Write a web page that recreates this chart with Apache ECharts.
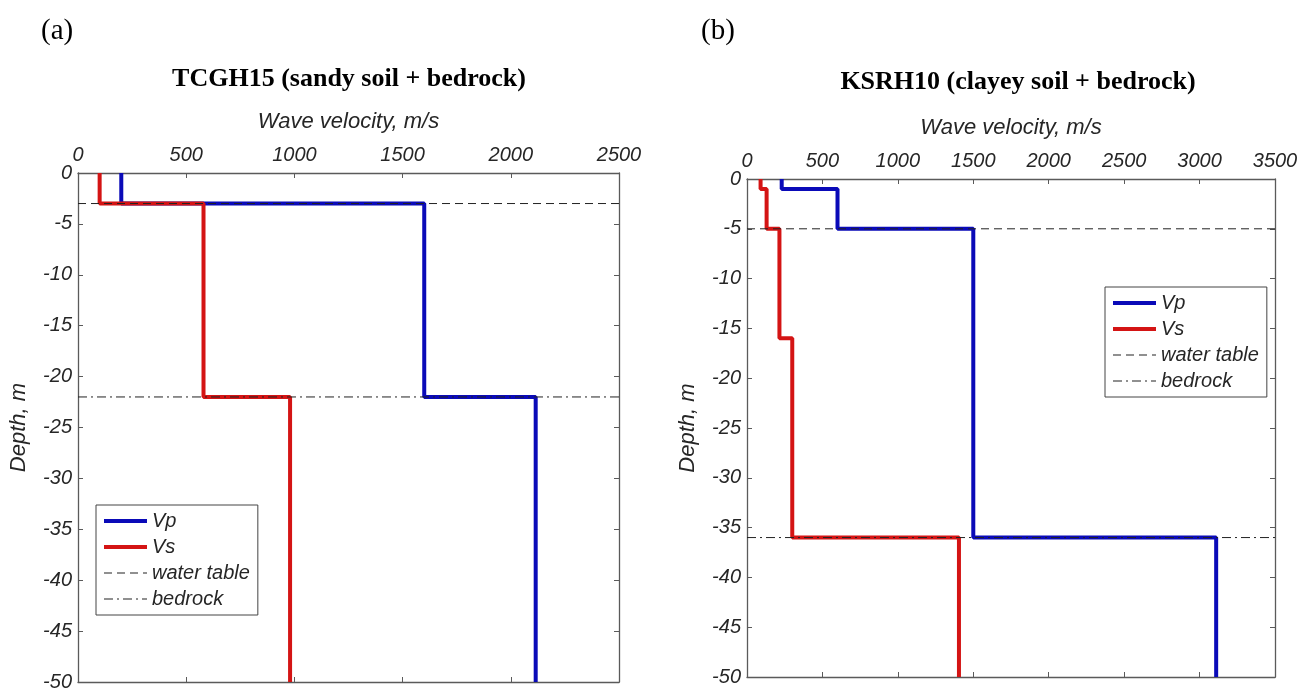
<!DOCTYPE html>
<html>
<head>
<meta charset="utf-8">
<script src="https://cdn.jsdelivr.net/npm/echarts@6/dist/echarts.min.js"></script>
<style>
  html, body { margin: 0; padding: 0; background: #fff; }
  #main { width: 1313px; height: 695px; }
</style>
</head>
<body>
<div id="main"></div>
<script>
// (a) TCGH15 - layer boundaries (m) and velocities per layer (m/s)
const depthA = [0, -3, -22, -50];
const vpA = [200, 1600, 2115];
const vsA = [100, 580, 980];
const waterA = -3;
const rockA = -22;
const xTicksA = [0, 500, 1000, 1500, 2000, 2500];

// (b) KSRH10
const depthB = [0, -1, -5, -16, -36, -50];
const vpB = [230, 600, 1500, 1500, 3110];
const vsB = [90, 130, 215, 300, 1405];
const waterB = -5;
const rockB = -36;
const xTicksB = [0, 500, 1000, 1500, 2000, 2500, 3000, 3500];

const yTicks = [0, -5, -10, -15, -20, -25, -30, -35, -40, -45, -50];

const blue = '#0a0ab8';
const red = '#d41414';
const axisGray = '#5a5a5a';
const txt = '#262626';
const dashWater = [8, 5];
const dashRock = [9, 4, 2, 4];

function steps(bounds, vals) {
    let pts = [];
    for (let i = 0; i < vals.length; i++) {
        pts.push([vals[i], bounds[i]]);
        pts.push([vals[i], bounds[i + 1]]);
    }
    return pts;
}

const labelFont = { fontFamily: 'Liberation Sans', fontStyle: 'italic', fontSize: 20, color: txt, formatter: v => String(v) };

function xAxes(grid, ticks) {
    const max = ticks[ticks.length - 1];
    const base = {
        gridIndex: grid, type: 'value', min: ticks[0], max: max, interval: 500,
        axisLine: { onZero: false, lineStyle: { color: axisGray, width: 1.3 } },
        axisTick: { inside: true, length: 5, lineStyle: { color: axisGray } },
        splitLine: { show: false }
    };
    return [
        Object.assign({}, base, {
            position: 'top',
            name: 'Wave velocity, m/s', nameLocation: 'middle', nameGap: 40,
            nameTextStyle: { fontFamily: 'Liberation Sans', fontStyle: 'italic', fontSize: 22, color: txt },
            axisLabel: Object.assign({ margin: 8 }, labelFont)
        }),
        Object.assign({}, base, { position: 'bottom', axisLabel: { show: false } })
    ];
}

function yAxes(grid) {
    const base = {
        gridIndex: grid, type: 'value', min: yTicks[yTicks.length - 1], max: yTicks[0], interval: 5,
        axisLine: { onZero: false, lineStyle: { color: axisGray, width: 1.3 } },
        axisTick: { inside: true, length: 5, lineStyle: { color: axisGray } },
        splitLine: { show: false }
    };
    return [
        Object.assign({}, base, {
            position: 'left',
            name: 'Depth, m', nameLocation: 'middle', nameGap: 48, nameRotate: 90,
            nameTextStyle: { fontFamily: 'Liberation Sans', fontStyle: 'italic', fontSize: 22, color: txt },
            axisLabel: Object.assign({ margin: 6 }, labelFont)
        }),
        Object.assign({}, base, { position: 'right', axisLabel: { show: false } })
    ];
}

function seriesFor(idx, depth, vp, vs, water, rock, xmax) {
    const common = { type: 'line', xAxisIndex: idx * 2, yAxisIndex: idx * 2, symbol: 'none', silent: true };
    return [
        Object.assign({ name: 'Vp', data: steps(depth, vp), lineStyle: { color: blue, width: 4 }, itemStyle: { color: blue } }, common),
        Object.assign({ name: 'Vs', data: steps(depth, vs), lineStyle: { color: red, width: 4 }, itemStyle: { color: red } }, common),
        Object.assign({ name: 'water table', data: [[0, water], [xmax, water]], lineStyle: { color: '#222', width: 1, type: dashWater }, itemStyle: { color: '#222' } }, common),
        Object.assign({ name: 'bedrock', data: [[0, rock], [xmax, rock]], lineStyle: { color: '#222', width: 1, type: dashRock }, itemStyle: { color: '#222' } }, common)
    ];
}

function legendAt(left, top) {
    return {
        data: [
            { name: 'Vp', lineStyle: { width: 4, color: blue } },
            { name: 'Vs', lineStyle: { width: 4, color: red } },
            { name: 'water table', lineStyle: { width: 1.2, color: '#222', type: dashWater } },
            { name: 'bedrock', lineStyle: { width: 1.2, color: '#222', type: dashRock } }
        ],
        orient: 'vertical', left: left, top: top,
        itemWidth: 43, itemHeight: 14, itemGap: 6,
        padding: [6, 8, 6, 6],
        borderColor: '#444', borderWidth: 1, backgroundColor: '#fff',
        selectedMode: false,
        itemStyle: { color: 'rgba(0,0,0,0)', borderWidth: 0 },
        textStyle: { fontFamily: 'Liberation Sans', fontStyle: 'italic', fontSize: 20, color: txt }
    };
}

const chart = echarts.init(document.getElementById('main'));
chart.setOption({
    animation: false,
    backgroundColor: '#fff',
    title: [
        { text: '(a)', left: 36, top: 12, textStyle: { fontFamily: 'Liberation Serif', fontWeight: 'normal', fontSize: 29, color: '#000' } },
        { text: '(b)', left: 696, top: 12, textStyle: { fontFamily: 'Liberation Serif', fontWeight: 'normal', fontSize: 29, color: '#000' } },
        { text: 'TCGH15 (sandy soil + bedrock)', left: 344, top: 61, textAlign: 'center', textStyle: { fontFamily: 'Liberation Serif', fontWeight: 'bold', fontSize: 26, color: '#000' } },
        { text: 'KSRH10 (clayey soil + bedrock)', left: 1013, top: 64, textAlign: 'center', textStyle: { fontFamily: 'Liberation Serif', fontWeight: 'bold', fontSize: 26, color: '#000' } }
    ],
    grid: [
        { left: 78, top: 173, width: 541, height: 509 },
        { left: 747, top: 179, width: 528, height: 498 }
    ],
    xAxis: xAxes(0, xTicksA).concat(xAxes(1, xTicksB)),
    yAxis: yAxes(0).concat(yAxes(1)),
    legend: [legendAt(96, 505), legendAt(1105, 287)],
    series: seriesFor(0, depthA, vpA, vsA, waterA, rockA, xTicksA[xTicksA.length - 1])
        .concat(seriesFor(1, depthB, vpB, vsB, waterB, rockB, xTicksB[xTicksB.length - 1]))
});
</script>
</body>
</html>
